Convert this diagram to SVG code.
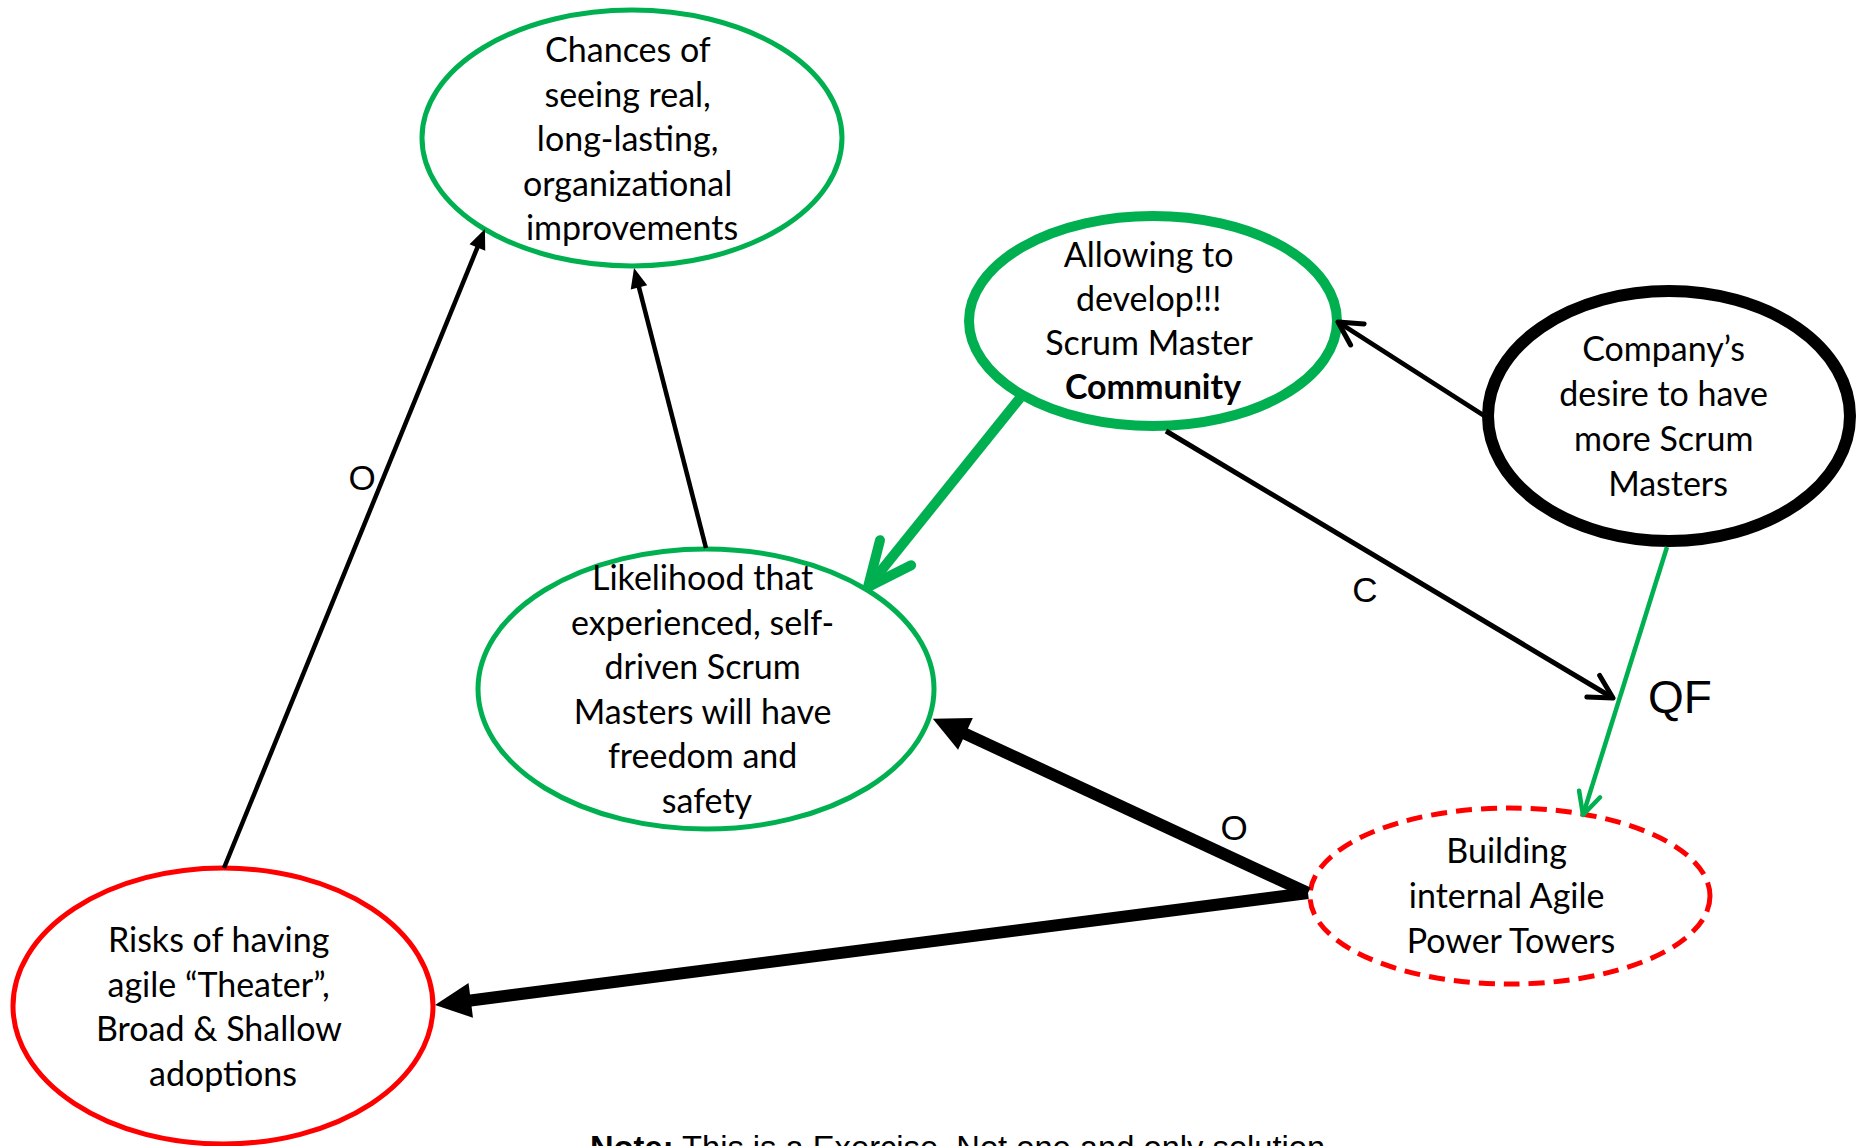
<svg xmlns="http://www.w3.org/2000/svg" width="1860" height="1146" viewBox="0 0 1860 1146">
  <style>
    .node { fill: #ffffff; }
    .green { stroke: #00B050; }
    .label { font-family: Lato, "Liberation Sans", sans-serif; font-size: 34px; fill: #000; text-anchor: middle; }
    .tag { font-family: "Liberation Sans", Arial, sans-serif; font-size: 35px; fill: #000; text-anchor: middle; }
    .tag.big { font-size: 46px; }
    .link { fill: none; stroke-linecap: butt; }
  </style>
  <defs>
    <!-- filled triangle heads; the tip sits beyond the line end -->
    <marker id="tri-sm" markerUnits="userSpaceOnUse" markerWidth="20" markerHeight="17" refX="8" refY="8.5" orient="auto" overflow="visible">
      <path d="M0,0 L20,8.5 L0,17 Z" fill="#000"/>
    </marker>
    <marker id="tri-lg" markerUnits="userSpaceOnUse" markerWidth="36" markerHeight="35" refX="6" refY="17.5" orient="auto" overflow="visible">
      <path d="M0,0 L36,17.5 L0,35 Z" fill="#000"/>
    </marker>
    <!-- open chevron heads -->
    <marker id="chev-green-lg" markerUnits="userSpaceOnUse" markerWidth="10" markerHeight="10" refX="0" refY="0" orient="auto" overflow="visible">
      <path d="M-44,-20 L0,0 L-44,20" fill="none" stroke="#00B050" stroke-width="10" stroke-linecap="round" stroke-linejoin="round"/>
    </marker>
    <marker id="chev-green-sm" markerUnits="userSpaceOnUse" markerWidth="10" markerHeight="10" refX="0" refY="0" orient="auto" overflow="visible">
      <path d="M-22,-11 L0,0 L-22,11" fill="none" stroke="#00B050" stroke-width="4.5" stroke-linecap="round" stroke-linejoin="round"/>
    </marker>
    <marker id="chev-black" markerUnits="userSpaceOnUse" markerWidth="10" markerHeight="10" refX="0" refY="0" orient="auto" overflow="visible">
      <path d="M-23,-12.5 L0,0 L-23,12.5" fill="none" stroke="#000" stroke-width="5" stroke-linecap="round" stroke-linejoin="round"/>
    </marker>
  </defs>

  <rect width="1860" height="1146" fill="#ffffff"/>

  <g id="node-chances">
    <ellipse class="node green" cx="632" cy="138" rx="210" ry="128" stroke-width="5"/>
    <text class="label">
      <tspan x="632" y="62">Chances of</tspan>
      <tspan x="632" y="106.5">seeing real,</tspan>
      <tspan x="632" y="151">long-lasting,</tspan>
      <tspan x="632" y="195.5">organizational</tspan>
      <tspan x="632" y="240">improvements</tspan>
    </text>
  </g>

  <g id="node-community">
    <ellipse class="node green" cx="1153" cy="321" rx="184" ry="105" stroke-width="10"/>
    <text class="label">
      <tspan x="1153" y="267">Allowing to</tspan>
      <tspan x="1153" y="311">develop!!!</tspan>
      <tspan x="1153" y="355">Scrum Master</tspan>
      <tspan x="1153" y="399" font-weight="bold">Community</tspan>
    </text>
  </g>

  <g id="node-company">
    <ellipse class="node" cx="1669" cy="416" rx="181" ry="125" stroke="#000" stroke-width="12"/>
    <text class="label">
      <tspan x="1668" y="361">Company’s</tspan>
      <tspan x="1668" y="406">desire to have</tspan>
      <tspan x="1668" y="451">more Scrum</tspan>
      <tspan x="1668" y="496">Masters</tspan>
    </text>
  </g>

  <g id="node-likelihood">
    <ellipse class="node green" cx="706" cy="689" rx="228" ry="140" stroke-width="5"/>
    <text class="label">
      <tspan x="707" y="590">Likelihood that</tspan>
      <tspan x="707" y="634.5">experienced, self-</tspan>
      <tspan x="707" y="679">driven Scrum</tspan>
      <tspan x="707" y="723.5">Masters will have</tspan>
      <tspan x="707" y="768">freedom and</tspan>
      <tspan x="707" y="812.5">safety</tspan>
    </text>
  </g>

  <g id="node-towers">
    <ellipse class="node" cx="1510" cy="896" rx="200" ry="88" stroke="#FF0000" stroke-width="5" stroke-dasharray="16 9"/>
    <text class="label">
      <tspan x="1511" y="863">Building</tspan>
      <tspan x="1511" y="908">internal Agile</tspan>
      <tspan x="1511" y="953">Power Towers</tspan>
    </text>
  </g>

  <g id="node-risks">
    <ellipse class="node" cx="223" cy="1006" rx="210" ry="138" stroke="#FF0000" stroke-width="5"/>
    <text class="label">
      <tspan x="223" y="952">Risks of having</tspan>
      <tspan x="223" y="996.5">agile “Theater”,</tspan>
      <tspan x="223" y="1041">Broad &amp; Shallow</tspan>
      <tspan x="223" y="1085.5">adoptions</tspan>
    </text>
  </g>

  <g id="connectors">
    <!-- Risks -> Chances -->
    <line class="link" x1="224" y1="868" x2="480.4" y2="240.1" stroke="#000" stroke-width="4.5" marker-end="url(#tri-sm)"/>
    <!-- Likelihood -> Chances -->
    <line class="link" x1="706" y1="548" x2="637" y2="279.6" stroke="#000" stroke-width="4.5" marker-end="url(#tri-sm)"/>
    <!-- Community -> Likelihood -->
    <line class="link" x1="1020" y1="398" x2="868" y2="587" stroke="#00B050" stroke-width="10" stroke-linecap="round" marker-end="url(#chev-green-lg)"/>
    <!-- Company -> Community -->
    <line class="link" x1="1483" y1="415" x2="1338" y2="322" stroke="#000" stroke-width="4.5" marker-end="url(#chev-black)"/>
    <!-- Community -> QF -->
    <line class="link" x1="1166" y1="431" x2="1613" y2="698" stroke="#000" stroke-width="5" marker-end="url(#chev-black)"/>
    <!-- Company -> Towers -->
    <line class="link" x1="1667" y1="547" x2="1583" y2="815" stroke="#00B050" stroke-width="4.5" marker-end="url(#chev-green-sm)"/>
    <!-- Towers -> Likelihood -->
    <line class="link" x1="1308" y1="893" x2="960" y2="731.4" stroke="#000" stroke-width="12" marker-end="url(#tri-lg)"/>
    <!-- Towers -> Risks -->
    <line class="link" x1="1308" y1="893" x2="464.8" y2="1001.2" stroke="#000" stroke-width="12" marker-end="url(#tri-lg)"/>

    <text class="tag" x="362" y="490">O</text>
    <text class="tag" x="1234" y="840">O</text>
    <text class="tag" x="1365" y="602">C</text>
    <text class="tag big" x="1680" y="713">QF</text>
  </g>

  <text x="590" y="1159" font-family="'Liberation Sans', Arial, sans-serif" font-size="32.7" fill="#000"><tspan font-weight="bold">Note:</tspan> This is a Exercise. Not one and only  solution</text>
</svg>
